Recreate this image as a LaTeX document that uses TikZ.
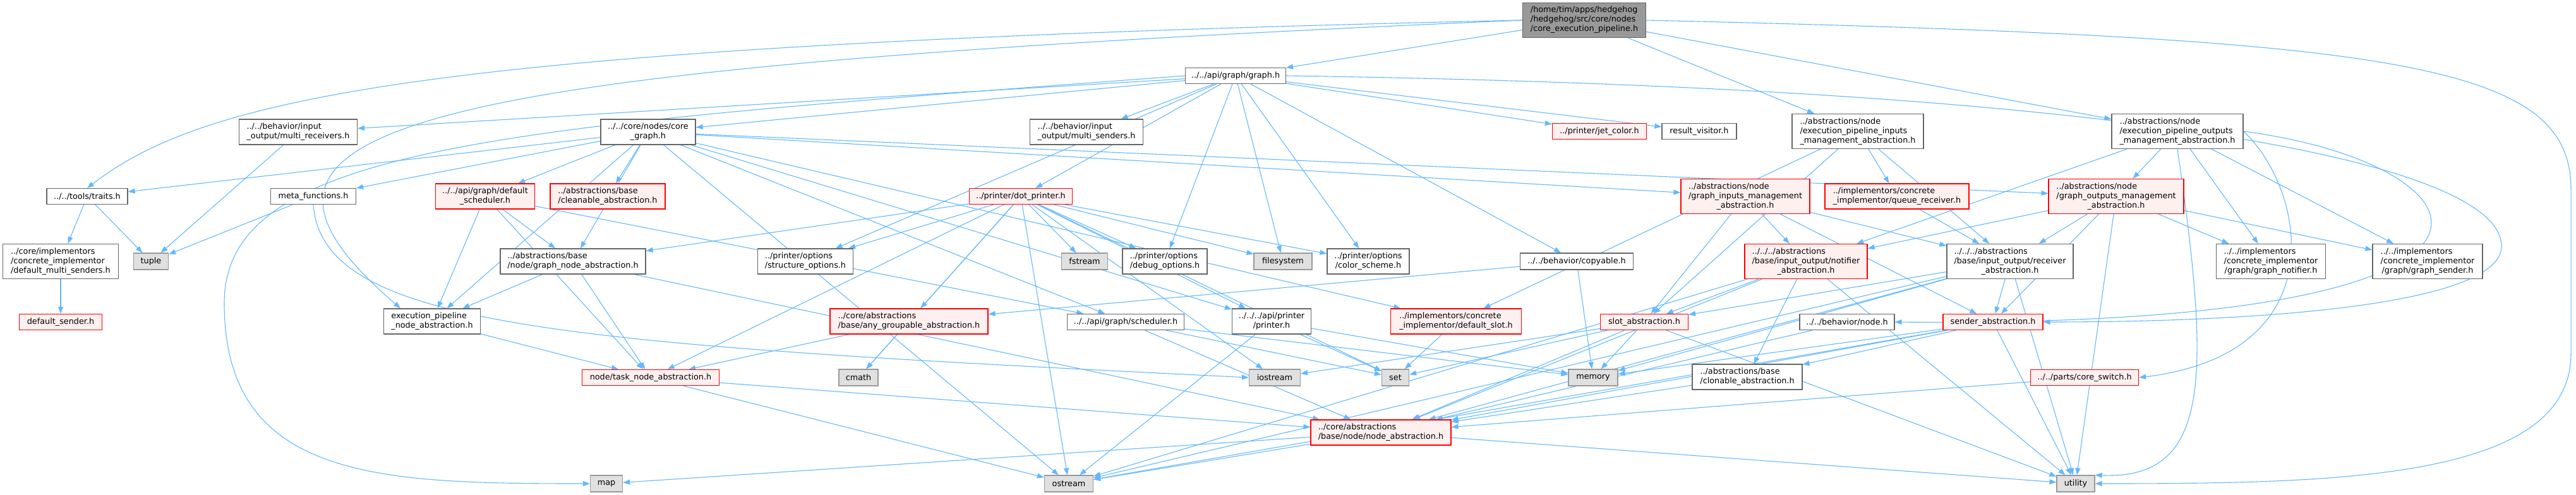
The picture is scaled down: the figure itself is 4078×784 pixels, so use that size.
\documentclass[tikz,border=0pt]{standalone}
\usepackage{fontspec}
\setmainfont{DejaVu Sans}
\usetikzlibrary{arrows.meta,positioning}

\definecolor{edgeblue}{HTML}{63B8FF}
\definecolor{boxgray}{HTML}{666666}
\definecolor{redfill}{HTML}{FFF0F0}
\definecolor{sysfill}{HTML}{E0E0E0}
\definecolor{sysline}{HTML}{999999}
\definecolor{rootfill}{HTML}{999999}

\pgfdeclarelayer{edges}
\pgfsetlayers{edges,main}

% label with left lines and a centred last line
\newcommand{\lbltwo}[2]{\begin{tabular}{@{}l@{}}#1\\\multicolumn{1}{@{}c@{}}{#2}\end{tabular}}
\newcommand{\lblthree}[3]{\begin{tabular}{@{}l@{}}#1\\#2\\\multicolumn{1}{@{}c@{}}{#3}\end{tabular}}

\tikzset{
  file/.style={draw=boxgray,fill=white,line width=1.2pt,inner sep=0pt,
    font=\fontsize{12.8}{15}\selectfont},
  redfile/.style={file,draw=red,fill=redfill},
  sysfile/.style={file,draw=sysline,fill=sysfill},
  rootfile/.style={file,draw=boxgray,fill=rootfill},
  inc/.style={edgeblue,line width=1.1pt,-{Triangle[length=11pt,width=8pt]}},
}

\begin{document}
\begin{tikzpicture}[x=1pt,y=-1pt]
  \useasboundingbox (0,0) rectangle (4078,784);

  % rank 0 and 1
  \node[rootfile,minimum width=195,minimum height=55] (root) at (2508,32)
    {\lblthree{/home/tim/apps/hedgehog}{/hedgehog/src/core/nodes}{/core\_execution\_pipeline.h}};
  \node[file,minimum width=159,minimum height=25] (graph) at (1956,120) {../../api/graph/graph.h};

  % rank 2
  \node[file,minimum width=187,minimum height=40] (mrecv) at (472,209) {\lbltwo{../../behavior/input}{\_output/multi\_receivers.h}};
  \node[file,minimum width=150,minimum height=40] (cgraph) at (1026,209) {\lbltwo{../../core/nodes/core}{\_graph.h}};
  \node[file,minimum width=179,minimum height=40] (msend) at (1720,209) {\lbltwo{../../behavior/input}{\_output/multi\_senders.h}};
  \node[redfile,minimum width=149,minimum height=25] (jet) at (2532,208) {../printer/jet\_color.h};
  \node[file,minimum width=118,minimum height=25] (resvis) at (2690,208) {result\_visitor.h};
  \node[file,minimum width=208,minimum height=55] (epin) at (2941,208)
    {\lblthree{../abstractions/node}{/execution\_pipeline\_inputs}{\_management\_abstraction.h}};
  \node[file,minimum width=208,minimum height=55] (epout) at (3447,208)
    {\lblthree{../abstractions/node}{/execution\_pipeline\_outputs}{\_management\_abstraction.h}};

  % rank 3
  \node[file,minimum width=128,minimum height=25] (traits) at (138,311) {../../tools/traits.h};
  \node[file,minimum width=135,minimum height=25] (meta) at (496,311) {meta\_functions.h};
  \node[redfile,minimum width=157,minimum height=40] (dsched) at (768,311) {\lbltwo{../../api/graph/default}{\_scheduler.h}};
  \node[redfile,minimum width=182,minimum height=40] (clean) at (962,311) {\lbltwo{../abstractions/base}{/cleanable\_abstraction.h}};
  \node[redfile,minimum width=163,minimum height=25] (dotp) at (1616,311) {../printer/dot\_printer.h};
  \node[redfile,minimum width=204,minimum height=55] (ginm) at (2763,311)
    {\lblthree{../abstractions/node}{/graph\_inputs\_management}{\_abstraction.h}};
  \node[redfile,minimum width=228,minimum height=40] (qrecv) at (3003,311) {\lbltwo{../implementors/concrete}{\_implementor/queue\_receiver.h}};
  \node[redfile,minimum width=214,minimum height=55] (goutm) at (3350,311)
    {\lblthree{../abstractions/node}{/graph\_outputs\_management}{\_abstraction.h}};

  % rank 4
  \node[file,minimum width=183,minimum height=55] (dmsend) at (96,414)
    {\lblthree{../core/implementors}{/concrete\_implementor}{/default\_multi\_senders.h}};
  \node[sysfile,minimum width=55,minimum height=26] (tuple) at (239,414) {tuple};
  \node[file,minimum width=230,minimum height=40] (gnode) at (907,414) {\lbltwo{../abstractions/base}{/node/graph\_node\_abstraction.h}};
  \node[file,minimum width=151,minimum height=40] (sopt) at (1275,414) {\lbltwo{../printer/options}{/structure\_options.h}};
  \node[sysfile,minimum width=73,minimum height=26] (fstream) at (1717,414) {fstream};
  \node[file,minimum width=134,minimum height=40] (dopt) at (1844,414) {\lbltwo{../printer/options}{/debug\_options.h}};
  \node[sysfile,minimum width=92,minimum height=26] (fsys) at (2031,414) {filesystem};
  \node[file,minimum width=130,minimum height=40] (cscheme) at (2166,414) {\lbltwo{../printer/options}{/color\_scheme.h}};
  \node[file,minimum width=179,minimum height=26] (copy) at (2496,414) {../../behavior/copyable.h};
  \node[redfile,minimum width=194,minimum height=55] (notif) at (2859,414)
    {\lblthree{../../../abstractions}{/base/input\_output/notifier}{\_abstraction.h}};
  \node[file,minimum width=200,minimum height=55] (recv) at (3182,414)
    {\lblthree{../../../abstractions}{/base/input\_output/receiver}{\_abstraction.h}};
  \node[file,minimum width=173,minimum height=55] (gnotif) at (3595,414)
    {\lblthree{../../implementors}{/concrete\_implementor}{/graph/graph\_notifier.h}};
  \node[file,minimum width=174,minimum height=55] (gsend) at (3843,414)
    {\lblthree{../../implementors}{/concrete\_implementor}{/graph/graph\_sender.h}};

  % rank 5
  \node[redfile,minimum width=131,minimum height=25] (dsend) at (96,510) {default\_sender.h};
  \node[file,minimum width=153,minimum height=40] (epnode) at (684,509) {\lbltwo{execution\_pipeline}{\_node\_abstraction.h}};
  \node[redfile,minimum width=250,minimum height=40] (anyg) at (1439,509) {\lbltwo{../core/abstractions}{/base/any\_groupable\_abstraction.h}};
  \node[file,minimum width=185,minimum height=25] (sched) at (1782,510) {../../api/graph/scheduler.h};
  \node[file,minimum width=125,minimum height=40] (printer) at (2013,509) {\lbltwo{../../../api/printer}{/printer.h}};
  \node[redfile,minimum width=207,minimum height=40] (dslot) at (2305,509) {\lbltwo{../implementors/concrete}{\_implementor/default\_slot.h}};
  \node[redfile,minimum width=139,minimum height=25] (slot) at (2603,510) {slot\_abstraction.h};
  \node[file,minimum width=150,minimum height=25] (bnode) at (2924,510) {../../behavior/node.h};
  \node[redfile,minimum width=158,minimum height=25] (sender) at (3155,510) {sender\_abstraction.h};

  % rank 6
  \node[redfile,minimum width=217,minimum height=25] (tnode) at (1030,598) {node/task\_node\_abstraction.h};
  \node[sysfile,minimum width=62,minimum height=26] (cmath) at (1359,598) {cmath};
  \node[sysfile,minimum width=81,minimum height=26] (iostream) at (2018,598) {iostream};
  \node[sysfile,minimum width=43,minimum height=26] (set) at (2209,598) {set};
  \node[sysfile,minimum width=78,minimum height=26] (memory) at (2522,598) {memory};
  \node[file,minimum width=174,minimum height=40] (clon) at (2766,597) {\lbltwo{../abstractions/base}{/clonable\_abstraction.h}};
  \node[redfile,minimum width=171,minimum height=25] (cswitch) at (3300,598) {../../parts/core\_switch.h};

  % rank 7 and 8
  \node[redfile,minimum width=222,minimum height=40] (nabs) at (2186,685) {\lbltwo{../core/abstractions}{/base/node/node\_abstraction.h}};
  \node[sysfile,minimum width=51,minimum height=26] (map) at (960,766) {map};
  \node[sysfile,minimum width=77,minimum height=26] (ostream) at (1692,766) {ostream};
  \node[sysfile,minimum width=60,minimum height=26] (utility) at (3286,766) {utility};

  \begin{pgfonlayer}{edges}
  % straight includes
  \foreach \a/\b in {root/graph,root/epin,root/epout,
      graph/mrecv,graph/msend,graph/cgraph,graph/dotp,graph/jet,graph/resvis,
      graph/sopt,graph/dopt,graph/cscheme,graph/fsys,graph/copy,
      cgraph/traits,cgraph/meta,cgraph/dsched,cgraph/clean,cgraph/gnode,cgraph/epnode,
      cgraph/ginm,cgraph/goutm,cgraph/ostream,cgraph/sched,cgraph/printer,cgraph/dslot,
      traits/dmsend,traits/tuple,mrecv/tuple,meta/tuple,dmsend/dsend,
      dsched/gnode,dsched/epnode,dsched/tnode,dsched/sched,
      gnode/epnode,gnode/tnode,gnode/nabs,epnode/tnode,
      dotp/gnode,dotp/tnode,dotp/cmath,dotp/anyg,dotp/ostream,dotp/printer,dotp/iostream,
      dotp/fstream,dotp/dopt,dotp/fsys,dotp/cscheme,dotp/sopt,dotp/set,
      copy/memory,copy/anyg,anyg/cmath,anyg/tnode,
      sched/memory,sched/set,sched/nabs,printer/ostream,printer/set,printer/memory,
      dslot/set,slot/set,slot/iostream,slot/memory,slot/nabs,slot/utility,bnode/nabs,
      sender/clon,sender/memory,sender/nabs,sender/utility,sender/ostream,
      recv/sender,recv/slot,recv/memory,recv/utility,recv/nabs,recv/ostream,
      notif/clon,notif/slot,notif/nabs,notif/utility,notif/ostream,
      epin/qrecv,epin/recv,epin/dslot,epin/slot,
      epout/goutm,epout/gnotif,epout/gsend,epout/notif,
      ginm/notif,ginm/recv,ginm/slot,ginm/sender,
      goutm/notif,goutm/recv,goutm/gnotif,goutm/gsend,goutm/sender,goutm/utility,
      qrecv/recv,cswitch/nabs,clon/nabs,nabs/map,nabs/ostream,nabs/utility,
      tnode/nabs,tnode/ostream}
    \draw[inc] (\a) -- (\b);

  % long curved includes
  \draw[inc] (root.west) .. controls (700,70) and (330,150) .. (traits.north);
  \draw[inc] (root.west) .. controls (600,110) and (300,200) .. ([xshift=-50]epnode.north);
  \draw[inc] (meta.south) .. controls (510,520) and (900,545) .. (iostream.west);
  \draw[inc] (root.east) .. controls (3800,60) and (4070,100) .. (4070,300)
    -- (4070,560) .. controls (4070,760) and (3700,766) .. (utility.east);
  \draw[inc] (graph.east) .. controls (3400,140) and (3960,260) .. (3960,390)
    .. controls (3960,480) and (3600,510) .. (sender.east);
  \draw[inc] (graph.west) .. controls (800,200) and (355,230) .. (355,480)
    .. controls (355,760) and (600,766) .. (map.west);
  \draw[inc] (epout.east) .. controls (3650,300) and (3700,560) .. (cswitch.east);
  \draw[inc] (epout.east) .. controls (3950,260) and (4100,520) .. (bnode.east);
  \draw[inc] (epout.south) .. controls (3500,600) and (3500,760) .. (utility.north east);
  \end{pgfonlayer}
\end{tikzpicture}
\end{document}
